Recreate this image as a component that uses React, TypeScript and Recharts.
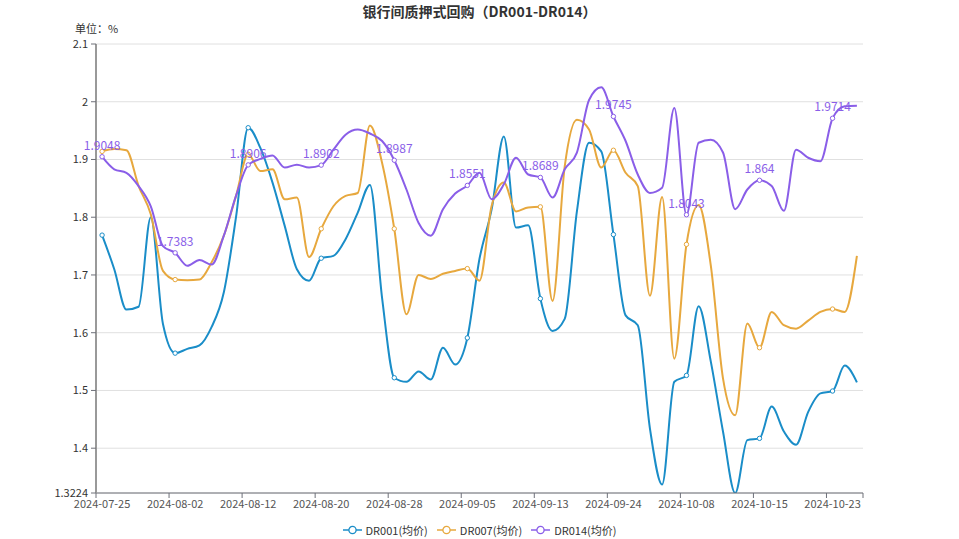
import { LineChart, Line, XAxis, YAxis, CartesianGrid, Legend, LabelList } from "recharts";

const DATES = [
  "2024-07-25", "2024-07-26", "2024-07-29", "2024-07-30", "2024-07-31", "2024-08-01", "2024-08-02",
  "2024-08-05", "2024-08-06", "2024-08-07", "2024-08-08", "2024-08-09", "2024-08-12",
  "2024-08-13", "2024-08-14", "2024-08-15", "2024-08-16", "2024-08-19", "2024-08-20",
  "2024-08-21", "2024-08-22", "2024-08-23", "2024-08-26", "2024-08-27", "2024-08-28",
  "2024-08-29", "2024-08-30", "2024-09-02", "2024-09-03", "2024-09-04", "2024-09-05",
  "2024-09-06", "2024-09-09", "2024-09-10", "2024-09-11", "2024-09-12", "2024-09-13",
  "2024-09-14", "2024-09-18", "2024-09-19", "2024-09-20", "2024-09-23", "2024-09-24",
  "2024-09-25", "2024-09-26", "2024-09-27", "2024-09-29", "2024-09-30", "2024-10-08",
  "2024-10-09", "2024-10-10", "2024-10-11", "2024-10-12", "2024-10-14", "2024-10-15",
  "2024-10-16", "2024-10-17", "2024-10-18", "2024-10-21", "2024-10-22", "2024-10-23",
  "2024-10-24", "2024-10-25",
];

const DR001 = [
  1.769, 1.71, 1.64, 1.645, 1.8, 1.615, 1.5646,
  1.572, 1.578, 1.61, 1.67, 1.8, 1.955,
  1.92, 1.86, 1.785, 1.71, 1.69, 1.729,
  1.733, 1.762, 1.808, 1.856, 1.66, 1.522,
  1.515, 1.533, 1.519, 1.574, 1.545, 1.591,
  1.728, 1.814, 1.94, 1.782, 1.786, 1.659,
  1.603, 1.624, 1.81, 1.929, 1.914, 1.77,
  1.63, 1.613, 1.434, 1.337, 1.515, 1.526,
  1.646, 1.55, 1.429, 1.3224, 1.414, 1.417,
  1.472, 1.429, 1.406, 1.463, 1.495, 1.499,
  1.543, 1.514,
];

const DR007 = [
  1.914, 1.918, 1.916, 1.854, 1.805, 1.707, 1.692,
  1.691, 1.692, 1.722, 1.768, 1.837, 1.909,
  1.88, 1.883, 1.831, 1.834, 1.731, 1.78,
  1.819, 1.837, 1.842, 1.959, 1.894, 1.78,
  1.632, 1.7, 1.693, 1.702, 1.707, 1.711,
  1.69, 1.82, 1.86, 1.81, 1.817, 1.818,
  1.655, 1.888, 1.969, 1.952, 1.886, 1.916,
  1.877, 1.854, 1.664, 1.835, 1.555, 1.753,
  1.821, 1.716, 1.521, 1.457, 1.616, 1.574,
  1.636, 1.613, 1.607, 1.621, 1.636, 1.641,
  1.636, 1.733,
];

const DR014 = [
  1.9048, 1.883, 1.877, 1.854, 1.819, 1.75, 1.7383,
  1.716, 1.726, 1.718, 1.768, 1.837, 1.8906,
  1.901, 1.907, 1.886, 1.891, 1.886, 1.8902,
  1.917, 1.943, 1.952, 1.945, 1.932, 1.8987,
  1.848, 1.79, 1.768, 1.814, 1.841, 1.8551,
  1.877, 1.831, 1.857, 1.903, 1.874, 1.8689,
  1.834, 1.883, 1.912, 2.003, 2.025, 1.9745,
  1.932, 1.874, 1.842, 1.851, 1.989, 1.8043,
  1.929, 1.934, 1.912, 1.814, 1.848, 1.864,
  1.854, 1.811, 1.917, 1.903, 1.897, 1.9714,
  1.992, 1.993,
];

const Y_TICKS = [1.3224, 1.4, 1.5, 1.6, 1.7, 1.8, 1.9, 2, 2.1];
const LABEL_STEP = 6;

const SERIES = [
  { key: "dr001", name: "DR001(均价)", color: "#1a8dc8" },
  { key: "dr007", name: "DR007(均价)", color: "#e7a83e" },
  { key: "dr014", name: "DR014(均价)", color: "#8a5ee8" },
];

const data = DATES.map((date, i) => ({
  i,
  date,
  dr001: DR001[i],
  dr007: DR007[i],
  dr014: DR014[i],
}));

// tick marks sit on the band edges, labels in the band centres
const X_TICKS: number[] = [];
for (let k = 0; k < DATES.length; k += LABEL_STEP) X_TICKS.push(k - 0.5);
X_TICKS.push(DATES.length - 0.5);

const W = 959;
const H = 539;
const PLOT_LEFT = 96;
const PLOT_RIGHT = 863;
const FONT = "'Microsoft YaHei', 'Noto Sans CJK SC', sans-serif";
const HALF_BAND = (PLOT_RIGHT - PLOT_LEFT) / DATES.length / 2;

function XTick(props: any) {
  const { x, y, payload } = props;
  const idx = Math.round(payload.value + 0.5);
  const axisY = y - 5;
  return (
    <g>
      <line x1={x} x2={x} y1={axisY} y2={axisY + 5} stroke="#6e7079" />
      {idx < DATES.length && (
        <text x={x + HALF_BAND} y={axisY + 15} textAnchor="middle" fill="#555" fontSize={11} fontFamily={FONT}>
          {DATES[idx]}
        </text>
      )}
    </g>
  );
}

function makeDot(color: string) {
  return (props: any) => {
    const { cx, cy, index } = props;
    if (index % LABEL_STEP !== 0) return <g key={`d-${index}`} />;
    return <circle key={`d-${index}`} cx={cx} cy={cy} r={2.2} fill="#fff" stroke={color} strokeWidth={1} />;
  };
}

function DR014Label(props: any) {
  const { x, y, value, index } = props;
  if (index % LABEL_STEP !== 0) return null;
  return (
    <text x={x} y={y - 7} textAnchor="middle" fill="#8a5ee8" fontSize={12} fontFamily={FONT}>
      {String(value)}
    </text>
  );
}

function LegendContent() {
  return (
    <div style={{ display: "flex", justifyContent: "center", gap: 9, fontFamily: FONT, fontSize: 11, color: "#333" }}>
      {SERIES.map((s) => (
        <div key={s.key} style={{ display: "flex", alignItems: "center", gap: 4 }}>
          <svg width={19} height={12}>
            <line x1={0} x2={19} y1={6} y2={6} stroke={s.color} strokeWidth={1.5} />
            <circle cx={9.5} cy={6} r={3.6} fill="#fff" stroke={s.color} strokeWidth={1.3} />
          </svg>
          <span>{s.name}</span>
        </div>
      ))}
    </div>
  );
}

export default function App() {
  return (
    <div style={{ position: "absolute", left: 0, top: 0, width: W, height: H, background: "#fff", fontFamily: FONT }}>
      <div style={{ position: "absolute", left: 0, width: W, top: 1, textAlign: "center", fontSize: 14, fontWeight: "bold", color: "#333" }}>
        银行间质押式回购（DR001-DR014）
      </div>
      <div style={{ position: "absolute", left: 75, top: 20, fontSize: 11, color: "#333" }}>单位：%</div>
      <LineChart width={W} height={H} data={data} margin={{ top: 44, right: W - PLOT_RIGHT, bottom: 16, left: 0 }}>
        <CartesianGrid vertical={false} stroke="#e0e0e0" />
        <XAxis
          type="number"
          dataKey="i"
          domain={[-0.5, DATES.length - 0.5]}
          ticks={X_TICKS}
          interval={0}
          height={30}
          tickSize={5}
          tickMargin={0}
          tickLine={false}
          axisLine={{ stroke: "#6e7079" }}
          tick={<XTick />}
        />
        <YAxis
          type="number"
          width={PLOT_LEFT}
          domain={[1.3224, 2.1]}
          ticks={Y_TICKS}
          interval={0}
          allowDataOverflow
          tickSize={5}
          tickMargin={3}
          axisLine={{ stroke: "#999", strokeWidth: 2 }}
          tickLine={{ stroke: "#6e7079" }}
          tick={{ fill: "#333", fontSize: 11, fontFamily: FONT }}
          tickFormatter={(v: number) => String(+v.toFixed(4))}
        />
        <Legend verticalAlign="middle" align="center" wrapperStyle={{ top: 522, left: 0, width: W }} content={<LegendContent />} />
        {SERIES.map((s) => (
          <Line
            key={s.key}
            type="monotone"
            dataKey={s.key}
            name={s.name}
            stroke={s.color}
            strokeWidth={2}
            dot={makeDot(s.color)}
            activeDot={false}
            isAnimationActive={false}
          >
            {s.key === "dr014" && <LabelList dataKey="dr014" content={<DR014Label />} />}
          </Line>
        ))}
      </LineChart>
    </div>
  );
}
